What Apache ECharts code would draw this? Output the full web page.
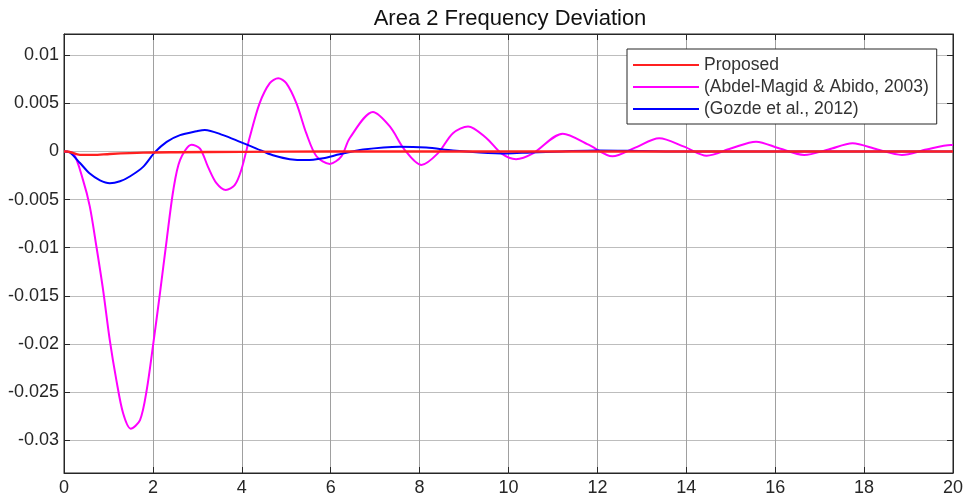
<!DOCTYPE html>
<html>
<head>
<meta charset="utf-8">
<title>Area 2 Frequency Deviation</title>
<script src="https://cdn.jsdelivr.net/npm/echarts@6/dist/echarts.min.js"></script>
<style>
  html, body { margin: 0; padding: 0; background: #fff; }
  #chart { width: 966px; height: 497px; }
</style>
</head>
<body>
<div id="chart"></div>
<script>
// values (time in s, deviation in Hz)
const yTicks = [-0.03, -0.025, -0.02, -0.015, -0.01, -0.005, 0, 0.005, 0.01]

const proposedT = [0, 0.07, 0.36, 0.66, 1.03, 1.78, 2.5, 4, 6, 10, 20]
const proposedV = [0, 0, -0.00036, -0.00036, -0.00026, -0.00012, -0.00008, -0.00004, 0, 0, 0]

const abdelT = [0, 0.21, 0.43, 0.58, 0.73, 0.88, 1.03, 1.18, 1.33, 1.5, 1.71, 1.86, 2.01, 2.16, 2.31, 2.46, 2.61, 2.87, 3.06, 3.24, 3.43, 3.64, 3.84, 3.99,
  4.18, 4.4, 4.63, 4.82, 5.0, 5.23, 5.45, 5.68, 5.98, 6.24, 6.43, 6.95, 7.33, 7.66, 8.04, 8.41, 8.75, 9.09, 9.5, 9.84, 10.17, 10.55,
  11.22, 11.8, 12.34, 12.85, 13.39, 13.95, 14.46, 15.0, 15.57, 16.1, 16.65, 17.2, 17.74, 18.3, 18.85, 19.4, 19.95, 20]
const abdelV = [0, -0.0002, -0.003, -0.0057, -0.0099, -0.0144, -0.0196, -0.0238, -0.0272, -0.0288, -0.0279, -0.0248, -0.0199, -0.0147, -0.0092, -0.004, -0.0009, 0.0007, 0.0003, -0.0016, -0.0033, -0.004, -0.0035, -0.0019,
  0.0015, 0.005, 0.0071, 0.0076, 0.0071, 0.005, 0.0019, -0.0005, -0.0013, -0.0005, 0.0014, 0.0041, 0.0026, 0.0002, -0.0014, -0.0002, 0.0019, 0.0026, 0.0014, -0.0002, -0.0008, -0.0002,
  0.00185, 0.0007, -0.0005, 0.0004, 0.00137, 0.0005, -0.00044, 0.0003, 0.00102, 0.0003, -0.00036, 0.0002, 0.00085, 0.0002, -0.00036, 0.0002, 0.00068, 0.00066]

const gozdeT = [0, 0.13, 0.36, 0.58, 0.81, 1.03, 1.26, 1.48, 1.78, 2.04, 2.31, 2.61, 2.98, 3.17, 3.58, 3.96, 4.33, 4.7, 5.08, 5.45, 5.83, 6.2, 6.73, 7.55, 8.15, 8.75, 9.35, 9.95, 10.5, 11.2, 12, 13, 14, 16, 20]
const gozdeV = [0, -0.0001, -0.0012, -0.0023, -0.003, -0.0033, -0.0031, -0.0026, -0.0016, -0.0001, 0.001, 0.0017, 0.0021, 0.00224, 0.0017, 0.001, 0.0003, -0.0004, -0.0008, -0.0009, -0.0007, -0.0003, 0.0002, 0.0005, 0.0004, 0.0001, -0.0001, -0.0002, -0.0001, 0, 0.0001, 0.00005, 0, 0, 0]

const pairs = (t, v) => t.map((x, i) => [x, v[i]])

const FONT = 'Liberation Sans, Arial, sans-serif'
const INK = '#262626'

const option = {
  animation: false,
  backgroundColor: '#fff',
  title: {
    text: 'Area 2 Frequency Deviation',
    left: 505,
    textAlign: 'center',
    top: 3,
    textStyle: { fontFamily: FONT, fontSize: 22, fontWeight: 'normal', color: '#111' }
  },
  legend: {
    orient: 'vertical',
    left: 627,
    top: 49,
    padding: [7, 8, 6, 6],
    icon: 'rect',
    itemWidth: 66,
    itemHeight: 2,
    itemGap: 4,
    borderColor: INK,
    borderWidth: 1,
    backgroundColor: '#fff',
    textStyle: { fontFamily: FONT, fontSize: 17.5, color: '#333' },
    data: ['Proposed', '(Abdel-Magid & Abido, 2003)', '(Gozde et al., 2012)']
  },
  grid: {
    left: 64, right: 12, top: 34, bottom: 24,
    show: true, borderColor: INK, borderWidth: 1, backgroundColor: '#fff'
  },
  xAxis: [
    {
      type: 'value', min: 0, max: 20, interval: 2,
      axisLine: { onZero: false, lineStyle: { color: INK } },
      axisTick: { inside: true, length: 6, lineStyle: { color: INK } },
      axisLabel: { fontFamily: FONT, fontSize: 18, color: INK, margin: 6 },
      splitLine: { show: true, lineStyle: { color: '#a0a0a0', width: 1 } }
    },
    {
      type: 'value', min: 0, max: 20, interval: 2, position: 'top',
      axisLine: { onZero: false, lineStyle: { color: INK } },
      axisTick: { inside: true, length: 6, lineStyle: { color: INK } },
      axisLabel: { show: false },
      splitLine: { show: false }
    }
  ],
  yAxis: [
    {
      type: 'value', min: -0.0334, max: 0.0122,
      axisLine: { show: true, onZero: false, lineStyle: { color: INK } },
      axisTick: { show: true, inside: true, length: 6, customValues: yTicks, lineStyle: { color: INK } },
      axisLabel: { fontFamily: FONT, fontSize: 18, color: INK, margin: 5, customValues: yTicks },
      splitLine: { show: true, lineStyle: { color: '#bdbdbd', width: 1 } }
    },
    {
      type: 'value', min: -0.0334, max: 0.0122, position: 'right',
      axisLine: { show: true, onZero: false, lineStyle: { color: INK } },
      axisTick: { show: true, inside: true, length: 6, customValues: yTicks, lineStyle: { color: INK } },
      axisLabel: { show: false },
      splitLine: { show: false }
    }
  ],
  series: [
    {
      name: 'Proposed', type: 'line', symbol: 'none', smooth: 0.3,
      color: '#ff2020', lineStyle: { width: 2.4 },
      data: pairs(proposedT, proposedV), z: 4
    },
    {
      name: '(Abdel-Magid & Abido, 2003)', type: 'line', symbol: 'none', smooth: 0.3,
      color: '#ff00ff', lineStyle: { width: 2 },
      data: pairs(abdelT, abdelV), z: 2
    },
    {
      name: '(Gozde et al., 2012)', type: 'line', symbol: 'none', smooth: 0.3,
      color: '#0000ff', lineStyle: { width: 2 },
      data: pairs(gozdeT, gozdeV), z: 3
    }
  ]
}

const myChart = echarts.init(document.getElementById('chart'))
myChart.setOption(option)
</script>
</body>
</html>
